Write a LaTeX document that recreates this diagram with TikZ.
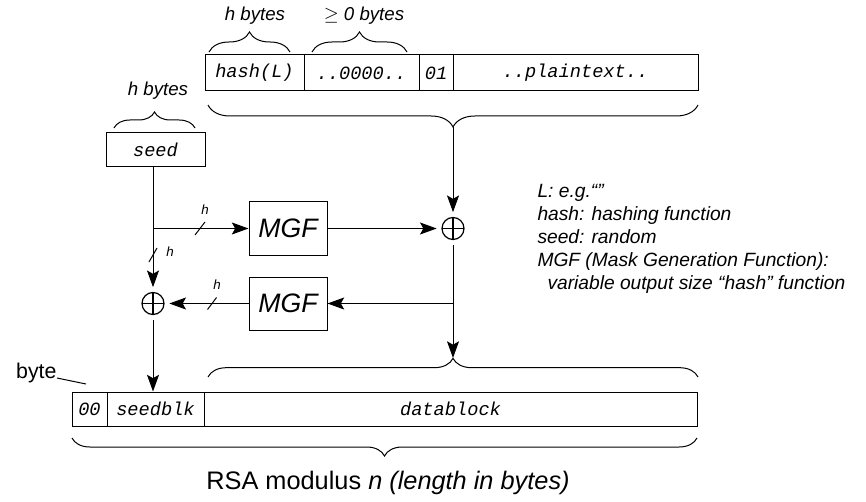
\documentclass[tikz,border=0pt]{standalone}
\usepackage{fontspec}
\setmainfont{Liberation Sans}
\setmonofont{Liberation Mono}
\usetikzlibrary{arrows.meta,decorations.pathreplacing,calc}
\begin{document}
\begin{tikzpicture}[x=0.75pt,y=-0.75pt,line width=0.75pt,
  cell/.style={draw, rectangle, inner sep=0pt, font=\fontsize{14}{16}\selectfont\ttfamily\itshape},
  mgf/.style={draw, rectangle, inner sep=0pt, minimum width=58.5pt, minimum height=39.75pt, font=\fontsize{20}{24}\selectfont\itshape},
  xorn/.style={circle, draw, line width=0.9pt, minimum size=16.5pt, inner sep=0pt, outer sep=4pt,
    path picture={\draw[line width=0.9pt] (path picture bounding box.north) -- (path picture bounding box.south)
      (path picture bounding box.west) -- (path picture bounding box.east);}},
  arr/.style={-{Stealth[length=12.5pt,width=9pt,inset=2.5pt]}},
  brc/.style={decorate, decoration={brace, amplitude=#1}},
  lbl/.style={font=\fontsize{14}{16}\selectfont\itshape, inner sep=0pt},
  hl/.style={font=\fontsize{10}{12}\selectfont\itshape, inner sep=0pt},
]
\useasboundingbox (0,0) rectangle (866,502);

% top row
\node[cell, minimum width=74.25pt, minimum height=27pt] (hashL) at (254.5,73) {hash(L)};
\node[cell, minimum width=86.25pt, minimum height=27pt] (zeros) at (361.5,73) {..0000..};
\node[cell, minimum width=25.5pt, minimum height=27pt] (one) at (436,73) {01};
\node[cell, minimum width=183.75pt, minimum height=27pt] (plain) at (575.5,73) {..plaintext..};

\draw[brc=15pt] (209,52) -- (290,52);
\draw[brc=15pt] (312,52) -- (407,52);
\node[lbl] (hb1) at (255,16) {h bytes};
\node[lbl] (zb) at (364,16) {$\geq$ 0 bytes};

\draw[brc=16.5pt] (698,105) -- (208,105);
\coordinate (tb) at (453,127);

% seed
\node[cell, minimum width=74.25pt, minimum height=25.5pt] (seed) at (155.5,150) {seed};
\draw[brc=12pt] (114,128) -- (195,128);
\node[lbl] (hb2) at (158,91) {h bytes};

% MGF and xor
\node[mgf] (mgf1) at (288,228.5) {MGF};
\node[mgf] (mgf2) at (288,303.5) {MGF};
\node[xorn] (xorR) at (453,228.5) {};
\node[xorn] (xorL) at (153,303.5) {};

% bottom row
\node[cell, minimum width=26.25pt, minimum height=25.5pt] (zz) at (89.5,409) {00};
\node[cell, minimum width=72.75pt, minimum height=25.5pt] (sblk) at (155.5,409) {seedblk};
\node[cell, minimum width=369.75pt, minimum height=25.5pt] (dblk) at (450.5,409) {datablock};

\draw[brc=14pt] (208,377) -- (698,377);
\coordinate (db) at (453,358);
\draw[brc=13.5pt] (697,438) -- (72,438);

% connectors
\coordinate (br1) at (153,228.5);
\coordinate (br2) at (453,303.5);
\draw[arr] (tb) -- (xorR);
\draw[arr] (xorR) -- (db);
\draw (seed.south -| xorL) -- (br1);
\draw[arr] (br1) -- (xorL);
\draw[arr] (br1) -- (mgf1.west);
\draw[arr] (mgf1.east) -- (xorR);
\draw[arr] (br2) -- (mgf2.east);
\draw[arr] (mgf2.west) -- (xorL);
\draw[arr] (xorL) -- (xorL |- sblk.north);

% ticks
\coordinate (t1) at (200,228.5);
\coordinate (t2) at (153,255);
\coordinate (t3) at (212,303.5);
\draw ([shift={(-5,6.5)}]t1) -- ([shift={(5,-6.5)}]t1);
\draw ([shift={(-4,7)}]t2) -- ([shift={(4,-7)}]t2);
\draw ([shift={(-4.5,6)}]t3) -- ([shift={(4.5,-6)}]t3);
\node[hl] (h1) at (205,210) {h};
\node[hl] (h2) at (170,252) {h};
\node[hl] (h3) at (217,285) {h};

% byte
\node[font=\fontsize{16}{18}\selectfont, inner sep=0pt, anchor=base east] (byte) at (57,378) {byte};
\coordinate (bytee) at (86,384);
\draw (byte.base east) -- (bytee);

% legend
\node[font=\fontsize{14.4}{17.25}\selectfont\itshape, align=left, inner sep=0pt, anchor=north west] (legend) at (537,184)
  {L: e.g.“”\\hash: hashing function\\seed: random\\MGF (Mask Generation Function):\\\hspace*{7.5pt}variable output size “hash” function};

% bottom label
\node[font=\fontsize{19}{23}\selectfont, inner sep=0pt] (rsa) at (388,483) {RSA modulus \textit{n (length in bytes)}};
\end{tikzpicture}
\end{document}
